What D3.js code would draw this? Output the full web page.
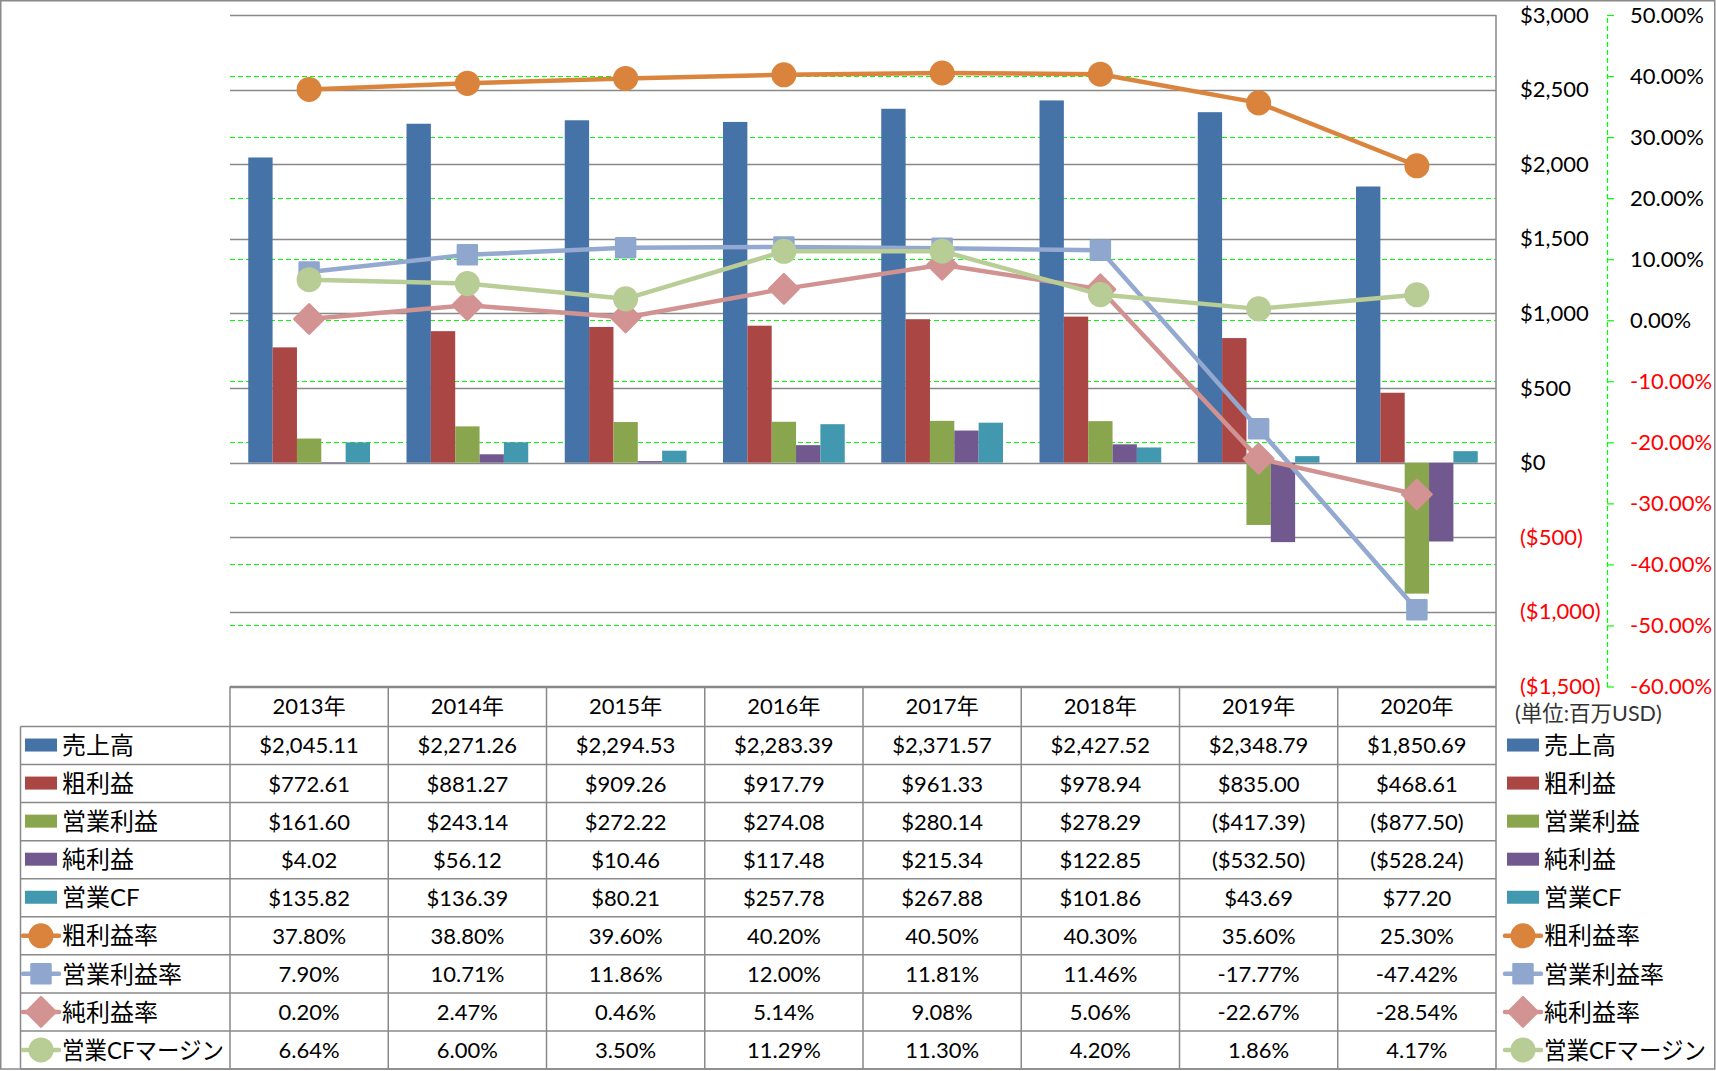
<!DOCTYPE html>
<html><head><meta charset="utf-8">
<script src="https://cdn.jsdelivr.net/npm/d3@7"></script>
<style>
html,body{margin:0;padding:0;background:#fff;}
svg{display:block;}
text{font-family:Lato,"Noto Sans CJK JP",sans-serif;}
</style></head><body>
<svg id="chart" width="1716" height="1071"></svg>
<script>
// ---------- data ----------
const years = ["2013年","2014年","2015年","2016年","2017年","2018年","2019年","2020年"];
const barNames = ["売上高","粗利益","営業利益","純利益","営業CF"];
const sales       = [2045.11, 2271.26, 2294.53, 2283.39, 2371.57, 2427.52, 2348.79, 1850.69];
const grossProfit = [772.61, 881.27, 909.26, 917.79, 961.33, 978.94, 835.00, 468.61];
const opProfit    = [161.60, 243.14, 272.22, 274.08, 280.14, 278.29, -417.39, -877.50];
const netProfit   = [4.02, 56.12, 10.46, 117.48, 215.34, 122.85, -532.50, -528.24];
const opCF        = [135.82, 136.39, 80.21, 257.78, 267.88, 101.86, 43.69, 77.20];
const lineNames = ["粗利益率","営業利益率","純利益率","営業CFマージン"];
const grossMargin = [37.80, 38.80, 39.60, 40.20, 40.50, 40.30, 35.60, 25.30];
const opMargin    = [7.90, 10.71, 11.86, 12.00, 11.81, 11.46, -17.77, -47.42];
const netMargin   = [0.20, 2.47, 0.46, 5.14, 9.08, 5.06, -22.67, -28.54];
const cfMargin    = [6.64, 6.00, 3.50, 11.29, 11.30, 4.20, 1.86, 4.17];
const usdTicks = [-1500,-1000,-500,0,500,1000,1500,2000,2500,3000];
const pctTicks = [-60,-50,-40,-30,-20,-10,0,10,20,30,40,50];
const unitLabel = "(単位:百万USD)";

// ---------- styles ----------
const barColors = ["#4572A7","#AA4643","#89A54E","#71588F","#4198AF"];
const lineColors = ["#DB843D","#93A9CF","#D19392","#B9CD96"];
const markerFill = ["#DA833C","#8FA7CE","#D29392","#B8CC95"];
const markerType = ["circle","square","diamond","circle"];

const barData = [sales, grossProfit, opProfit, netProfit, opCF];
const lineData = [grossMargin, opMargin, netMargin, cfMargin];

const svg = d3.select("#chart");
const W = 1716, H = 1071;
const plotL = 230, plotR = 1496, plotT = 15, plotB = 686.5;
const tblTop = 686.5, rowTop = 726.5, tblBottom = 1069, legL = 20.5;
const rowH = (tblBottom - rowTop) / 9;
const grey = "#898989";

const x0 = d3.scaleBand().domain(years).range([plotL, plotR]).padding(0);
const bw = x0.bandwidth();
const gap = bw * 0.75 / 6.5;
const x1 = d3.scaleBand().domain(barNames).range([gap, bw - gap]).padding(0);
const yL = d3.scaleLinear().domain([-1500, 3000]).range([plotB, plotT]);
const yR = d3.scaleLinear().domain([-60, 50]).range([plotB, plotT]);

svg.append("rect").attr("x",0).attr("y",0).attr("width",W).attr("height",H).attr("fill","#fff");

// green dashed gridlines (secondary)
svg.append("g").selectAll("line").data(pctTicks.filter(t => t > -60 && t < 50)).join("line")
  .attr("x1", plotL).attr("x2", plotR)
  .attr("y1", d => Math.round(yR(d)) + 0.5).attr("y2", d => Math.round(yR(d)) + 0.5)
  .attr("stroke", "#00FF00").attr("stroke-width", 1.2).attr("stroke-dasharray", "5,3");

// grey gridlines (primary)
svg.append("g").selectAll("line").data(usdTicks).join("line")
  .attr("x1", plotL).attr("x2", plotR)
  .attr("y1", d => Math.round(yL(d)) + 0.5).attr("y2", d => Math.round(yL(d)) + 0.5)
  .attr("stroke", grey).attr("stroke-width", 1.3);

// bars
barNames.forEach((name, i) => {
  svg.append("g").selectAll("rect").data(barData[i]).join("rect")
    .attr("x", (d, j) => x0(years[j]) + x1(name))
    .attr("width", x1.bandwidth())
    .attr("y", d => yL(Math.max(0, d)))
    .attr("height", d => Math.abs(yL(d) - yL(0)))
    .attr("fill", barColors[i]);
});

// marker helper
function symbolPath(type) {
  if (type === "circle") return d3.symbol(d3.symbolCircle, 400)();
  if (type === "square") return d3.symbol(d3.symbolSquare, 360)();
  return d3.symbol(d3.symbolSquare, 430)();
}
function markerTransform(type, x, y) {
  return "translate(" + x + "," + y + ")" + (type === "diamond" ? " rotate(45)" : "");
}

// lines
lineNames.forEach((name, i) => {
  const line = d3.line().x((d, j) => x0(years[j]) + bw / 2).y(d => yR(d));
  const g = svg.append("g");
  g.append("path").datum(lineData[i]).attr("d", line)
    .attr("fill", "none").attr("stroke", lineColors[i]).attr("stroke-width", 4.5)
    .attr("stroke-linejoin", "round");
  g.selectAll("path.m").data(lineData[i]).join("path").attr("class", "m")
    .attr("d", symbolPath(markerType[i]))
    .attr("transform", (d, j) => markerTransform(markerType[i], x0(years[j]) + bw / 2, yR(d)))
    .attr("fill", markerFill[i]).attr("stroke", markerFill[i]).attr("stroke-width", 2.5)
    .attr("stroke-linejoin", "round");
});

// primary right axis ($)
const fmtUSD = v => v < 0 ? "($" + d3.format(",")(-v) + ")" : "$" + d3.format(",")(v);
const axL = svg.append("g").attr("transform", "translate(" + plotR + ",0)")
  .call(d3.axisRight(yL).tickValues(usdTicks).tickSize(0).tickSizeOuter(0).tickPadding(24).tickFormat(fmtUSD));
axL.select(".domain").remove();
axL.selectAll("text").attr("font-size", 22).attr("font-family", null)
  .attr("fill", d => d < 0 ? "#FF0000" : "#000");

// secondary right axis (%)
const fmtPct = v => (v < 0 ? "-" : "") + d3.format(".2f")(Math.abs(v)) + "%";
const axR = svg.append("g").attr("transform", "translate(1607,0)")
  .call(d3.axisRight(yR).tickValues(pctTicks).tickSize(7).tickSizeOuter(0).tickPadding(16).tickFormat(fmtPct));
axR.select(".domain").attr("stroke", "#00FF00").attr("stroke-width", 1.2).attr("stroke-dasharray", "5,3");
axR.selectAll(".tick line").attr("stroke", "#00FF00").attr("stroke-width", 1.2);
axR.selectAll("text").attr("font-size", 22).attr("font-family", null)
  .attr("fill", d => d < 0 ? "#FF0000" : "#000");

// unit label
svg.append("text").attr("x", 1515).attr("y", 713).attr("dy", "0.35em")
  .attr("font-size", 21.5).attr("fill", "#333").text(unitLabel);

// ---------- data table ----------
const tbl = svg.append("g");
const allNames = barNames.concat(lineNames);
const allData = barData.concat(lineData);
const fmtUSD2 = v => v < 0 ? "($" + d3.format(",.2f")(-v) + ")" : "$" + d3.format(",.2f")(v);
const rowFmt = allNames.map((n, i) => i < 5 ? fmtUSD2 : fmtPct);
const rowY = d3.scaleLinear().domain([0, 9]).range([rowTop, tblBottom]);

// horizontal lines
tbl.append("line").attr("x1", plotL).attr("x2", plotR).attr("y1", tblTop).attr("y2", tblTop)
  .attr("stroke", grey).attr("stroke-width", 1.5);
tbl.selectAll("line.h").data(d3.range(10)).join("line").attr("class", "h")
  .attr("x1", legL).attr("x2", plotR)
  .attr("y1", d => rowY(d)).attr("y2", d => rowY(d))
  .attr("stroke", grey).attr("stroke-width", 1.5);
// vertical lines
tbl.append("line").attr("x1", legL).attr("x2", legL).attr("y1", rowTop).attr("y2", tblBottom)
  .attr("stroke", grey).attr("stroke-width", 1.5);
tbl.selectAll("line.v").data(years.concat(["end"])).join("line").attr("class", "v")
  .attr("x1", d => d === "end" ? plotR : x0(d)).attr("x2", d => d === "end" ? plotR : x0(d))
  .attr("y1", d => d === "end" ? plotT : tblTop).attr("y2", tblBottom)
  .attr("stroke", grey).attr("stroke-width", 1.5);

// header
tbl.selectAll("text.hd").data(years).join("text").attr("class", "hd")
  .attr("x", d => x0(d) + bw / 2).attr("y", (tblTop + rowTop) / 2).attr("dy", "0.36em")
  .attr("text-anchor", "middle").attr("font-size", 22).attr("fill", "#000").text(d => d);

// values
allNames.forEach((name, i) => {
  const cy = rowY(i) + rowH / 2;
  tbl.append("g").selectAll("text").data(allData[i]).join("text")
    .attr("x", (d, j) => x0(years[j]) + bw / 2).attr("y", cy).attr("dy", "0.36em")
    .attr("text-anchor", "middle").attr("font-size", 22).attr("fill", "#000")
    .text(d => rowFmt[i](d));
  // legend keys, left and right
  [[25, 62], [1507, 1544]].forEach(([kx, tx]) => {
    if (i < 5) {
      tbl.append("rect").attr("x", kx).attr("y", cy - 7).attr("width", 32).attr("height", 13)
        .attr("fill", barColors[i]);
    } else {
      const k = i - 5;
      tbl.append("line").attr("x1", kx - 2).attr("x2", kx + 34).attr("y1", cy).attr("y2", cy)
        .attr("stroke", lineColors[k]).attr("stroke-width", 4.5).attr("stroke-linecap", "round");
      tbl.append("path").attr("d", symbolPath(markerType[k]))
        .attr("transform", markerTransform(markerType[k], kx + 16, cy))
        .attr("fill", markerFill[k]).attr("stroke", markerFill[k]).attr("stroke-width", 2.5)
        .attr("stroke-linejoin", "round");
    }
    const t = tbl.append("text").attr("x", tx).attr("y", cy).attr("dy", "0.36em")
      .attr("font-size", 24).attr("fill", "#000").text(name);
    const len = t.node().getComputedTextLength();
    if (len > 162) t.attr("textLength", 162).attr("lengthAdjust", "spacingAndGlyphs");
  });
});

// outer border
svg.append("rect").attr("x", 0.75).attr("y", 0.75).attr("width", W - 2).attr("height", tblBottom - 0.75)
  .attr("fill", "none").attr("stroke", grey).attr("stroke-width", 1.5);
</script>
</body></html>
